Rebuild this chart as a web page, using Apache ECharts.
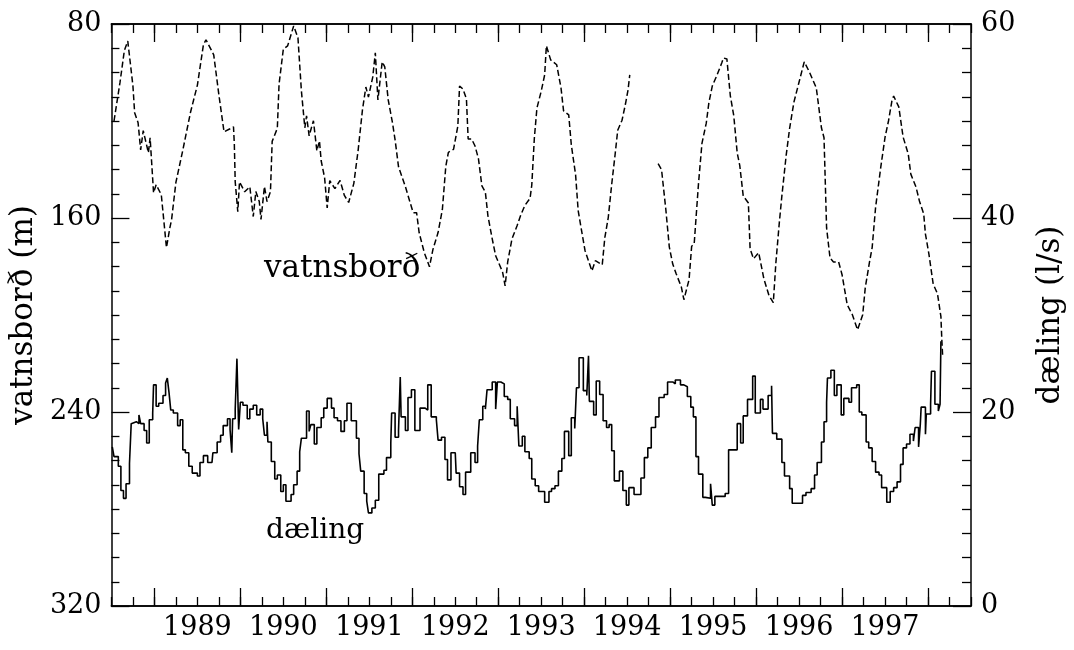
<!DOCTYPE html>
<html><head><meta charset="utf-8">
<script src="https://cdn.jsdelivr.net/npm/echarts@6/dist/echarts.min.js"></script>
<style>html,body{margin:0;padding:0;background:#fff}#c{width:1074px;height:650px}</style>
</head><body><div id="c"></div>
<script>
// Year boundaries (long ticks) and year label positions (mid-year)
const yearTicks = [1989, 1990, 1991, 1992, 1993, 1994, 1995, 1996, 1997, 1998];
const yearLabelPos = [1989.5, 1990.5, 1991.5, 1992.5, 1993.5, 1994.5, 1995.5, 1996.5, 1997.5];
const leftTicks = [80, 160, 240, 320];
const rightTicks = [0, 20, 40, 60];

// vatnsborð (m) — dashed, left inverted axis
const levelYears = [1988.53,1988.60,1988.65,1988.69,1988.75,1988.77,1988.81,1988.84,1988.87,1988.93,1988.95,1988.99,1989.02,1989.08,1989.14,1989.18,1989.20,1989.25,1989.33,1989.42,1989.50,1989.57,1989.60,1989.69,1989.75,1989.81,1989.88,1989.92,1989.93,1989.94,1989.97,1989.99,1990.05,1990.11,1990.15,1990.18,1990.22,1990.24,1990.28,1990.31,1990.35,1990.37,1990.43,1990.45,1990.50,1990.55,1990.62,1990.67,1990.71,1990.75,1990.77,1990.80,1990.85,1990.89,1990.92,1990.94,1990.98,1991.01,1991.04,1991.10,1991.16,1991.21,1991.26,1991.32,1991.37,1991.42,1991.46,1991.49,1991.54,1991.57,1991.60,1991.65,1991.68,1991.72,1991.77,1991.80,1991.84,1991.88,1991.92,1992.01,1992.05,1992.08,1992.14,1992.20,1992.24,1992.30,1992.35,1992.39,1992.42,1992.48,1992.53,1992.55,1992.59,1992.63,1992.65,1992.69,1992.73,1992.77,1992.81,1992.85,1992.88,1992.93,1992.97,1993.00,1993.05,1993.08,1993.11,1993.16,1993.22,1993.26,1993.31,1993.37,1993.39,1993.42,1993.45,1993.50,1993.54,1993.56,1993.61,1993.68,1993.73,1993.76,1993.82,1993.85,1993.90,1993.93,1993.97,1994.01,1994.09,1994.13,1994.21,1994.24,1994.28,1994.32,1994.36,1994.39,1994.44,1994.48,1994.51,1994.53,1994.70,1994.86,1994.90,1994.95,1994.99,1995.03,1995.07,1995.13,1995.16,1995.22,1995.25,1995.28,1995.33,1995.37,1995.42,1995.45,1995.49,1995.54,1995.60,1995.62,1995.66,1995.70,1995.74,1995.78,1995.81,1995.85,1995.91,1995.93,1995.97,1996.03,1996.09,1996.15,1996.20,1996.23,1996.27,1996.30,1996.35,1996.39,1996.44,1996.50,1996.56,1996.62,1996.70,1996.76,1996.79,1996.82,1996.86,1996.90,1996.96,1997.00,1997.06,1997.12,1997.18,1997.24,1997.27,1997.32,1997.35,1997.39,1997.45,1997.50,1997.54,1997.58,1997.60,1997.66,1997.71,1997.77,1997.80,1997.86,1997.90,1997.95,1997.97,1998.01,1998.06,1998.11,1998.15,1998.16,1998.17];
const levelValues = [120,104,91,87,105.5,116.6,120.7,131.9,124,133.1,126.9,149.6,146.3,150.4,172.2,164,160.6,145.3,132.1,116.4,105.2,88.6,86.5,92.7,109.2,124.5,123.2,122.4,129.8,145.1,157.4,145.1,149.2,147.1,159.4,149.1,153.2,160.6,147.0,153.2,149.1,128.4,123.0,104.8,90.3,89.0,80.8,85.7,107.6,122.8,117.9,126.1,119.9,132.3,128.2,136.4,143.4,155.8,144.6,147.9,144.5,150.7,153.6,145.7,132.1,115.5,106.0,110.1,101.9,91.9,111.3,95.6,97.7,111.3,120.8,127.8,138.9,143.0,147.1,157.8,157.8,166.1,174.3,180.1,173.0,166.0,156.5,138.7,132.9,131.7,122.1,105.6,106.8,110.9,127.4,127.4,130.3,135.6,146.8,149.3,159.1,168.6,175.6,178.1,182.2,188.0,178.1,168.6,163.1,159.0,154.8,151.9,146.5,127.1,114.7,107.7,101.0,89.0,94.8,96.8,106.3,115.8,117.5,129.8,142.2,157.0,165.3,173.5,181.8,177.6,179.3,168.1,159.8,146.1,133.7,123.8,119.7,113.0,107.2,101.0,null,137.6,140.1,156.6,171.9,179.0,183.0,188.4,193.7,185.4,171.7,170.5,145.7,129.2,120.9,112.6,105.6,101.5,96.1,94.0,94.4,109.6,117.8,133.1,138.4,150.9,153.8,172.7,176.8,174.3,185.0,192.0,194.9,178.5,161.9,150.8,134.1,123.0,112.2,103.9,95.6,99.8,106.3,122.8,126.9,164.1,176.5,178.1,178.1,183.4,195.8,199.9,206.1,199.9,188.7,178.0,172.2,155.6,139.1,126.7,120.0,111.7,109.7,114.2,126.6,133.6,141.9,147.2,153.0,158.3,166.6,174.8,187.2,191.2,200.7,209.8,216.8];

// dæling (l/s) — solid step line, right axis
const pumpYears = [1988.51,1988.53,1988.58,1988.61,1988.64,1988.67,1988.71,1988.73,1988.75,1988.79,1988.82,1988.84,1988.88,1988.91,1988.94,1988.98,1988.99,1989.02,1989.05,1989.10,1989.13,1989.15,1989.17,1989.19,1989.22,1989.27,1989.30,1989.33,1989.36,1989.40,1989.44,1989.50,1989.53,1989.57,1989.62,1989.67,1989.68,1989.73,1989.77,1989.80,1989.85,1989.88,1989.90,1989.91,1989.94,1989.96,1989.98,1990.00,1990.03,1990.08,1990.11,1990.15,1990.19,1990.23,1990.26,1990.28,1990.31,1990.32,1990.36,1990.40,1990.43,1990.47,1990.50,1990.53,1990.59,1990.62,1990.66,1990.69,1990.71,1990.74,1990.77,1990.80,1990.82,1990.86,1990.89,1990.94,1990.97,1991.01,1991.06,1991.09,1991.13,1991.17,1991.21,1991.24,1991.29,1991.35,1991.38,1991.40,1991.44,1991.47,1991.49,1991.53,1991.57,1991.61,1991.67,1991.70,1991.75,1991.76,1991.80,1991.84,1991.86,1991.87,1991.92,1991.95,1991.99,1992.03,1992.09,1992.15,1992.18,1992.22,1992.28,1992.30,1992.34,1992.38,1992.41,1992.45,1992.50,1992.51,1992.55,1992.59,1992.62,1992.68,1992.73,1992.76,1992.78,1992.82,1992.85,1992.87,1992.93,1992.97,1992.99,1993.03,1993.07,1993.11,1993.14,1993.19,1993.22,1993.24,1993.28,1993.31,1993.36,1993.39,1993.43,1993.47,1993.50,1993.54,1993.59,1993.62,1993.66,1993.70,1993.74,1993.77,1993.82,1993.85,1993.89,1993.91,1993.94,1993.99,1994.03,1994.05,1994.06,1994.11,1994.14,1994.18,1994.22,1994.26,1994.29,1994.32,1994.35,1994.41,1994.45,1994.49,1994.52,1994.58,1994.63,1994.66,1994.70,1994.74,1994.78,1994.83,1994.87,1994.93,1994.97,1995.03,1995.06,1995.12,1995.16,1995.20,1995.24,1995.27,1995.30,1995.33,1995.38,1995.41,1995.47,1995.49,1995.52,1995.61,1995.64,1995.68,1995.74,1995.78,1995.82,1995.85,1995.90,1995.93,1995.96,1995.99,1996.05,1996.08,1996.14,1996.18,1996.19,1996.24,1996.30,1996.33,1996.39,1996.42,1996.48,1996.54,1996.58,1996.64,1996.68,1996.71,1996.76,1996.79,1996.82,1996.83,1996.87,1996.91,1996.94,1996.99,1997.02,1997.08,1997.11,1997.17,1997.20,1997.23,1997.28,1997.31,1997.35,1997.39,1997.43,1997.46,1997.52,1997.56,1997.60,1997.64,1997.68,1997.71,1997.75,1997.79,1997.83,1997.85,1997.89,1997.91,1997.92,1997.97,1997.98,1998.03,1998.04,1998.08,1998.12,1998.14,1998.15];
const pumpValues = [16.4,15.4,14.4,11.9,11.1,12.6,14.7,18.8,19.0,18.8,19.7,18.8,18.1,16.8,19.2,19.9,22.8,20.6,20.9,21.7,23.0,23.5,22.0,20.2,19.9,18.6,19.2,16.1,15.8,14.4,13.7,13.4,14.8,15.5,14.8,14.8,15.8,16.9,17.6,18.6,19.3,18.2,15.8,19.3,20.3,25.5,18.2,21.0,20.7,19.3,20.3,20.7,19.7,20.3,19.3,17.6,19.0,16.9,14.9,13.1,13.5,11.8,12.5,10.8,11.5,12.5,13.9,15.9,17.3,17.3,20.1,18.0,18.7,16.7,18.4,19.4,20.4,21.4,20.4,19.4,19.1,18.0,19.1,20.9,19.1,17.3,15.7,13.9,11.6,10.8,9.6,10.1,10.9,13.6,14.0,15.3,16.8,19.9,17.4,18.1,23.6,19.5,18.1,21.5,22.3,18.1,20.4,20.2,22.8,19.5,19.2,17.1,17.4,15.1,13.0,15.8,15.8,13.7,12.3,11.5,13.8,15.8,14.8,16.5,19.2,20.6,20.3,22.3,23.1,20.3,23.1,22.9,21.6,21.3,19.3,18.6,20.6,16.5,17.5,15.9,15.2,13.1,12.4,11.8,11.8,10.7,11.8,12.1,12.4,13.9,15.2,18.0,15.5,19.4,18.3,22.5,25.6,22.2,21.7,25.8,21.1,19.7,23.2,21.8,19.1,18.4,18.7,16.0,12.9,13.9,11.9,10.4,12.2,11.5,11.5,13.2,15.3,16.3,18.4,19.5,21.5,21.8,23.1,22.9,23.3,22.8,22.6,21.6,20.5,19.5,15.4,13.6,11.2,11.1,12.6,10.4,11.3,11.3,11.6,16.1,16.1,18.8,16.8,19.6,21.3,21.3,23.7,19.9,21.3,20.3,21.7,22.7,17.8,17.2,14.8,13.4,12.1,10.6,10.6,11.4,11.7,12.1,13.5,14.8,16.9,19.0,21.0,23.5,24.3,21.7,22.8,19.7,21.4,21.0,22.5,22.8,20.0,19.7,16.9,16.3,14.9,13.8,13.5,12.2,10.7,11.8,12.2,12.8,14.6,16.3,16.7,17.7,17.0,18.4,16.4,18.7,20.5,17.7,19.8,20.8,24.2,20.8,20.1,20.8,27.3];

const levelData = levelYears.map((y, i) => [y, levelValues[i]]);
const pumpData = pumpYears.map((y, i) => [y, pumpValues[i]]);

const tickFont = '"DejaVu Serif", serif';
const wordFont = '"DejaVu Serif", serif';
const black = '#000';
const lineStyle = { color: black, width: 1.5 };

const chart = echarts.init(document.getElementById('c'), null, { renderer: 'canvas' });

function xAxisBase(pos) {
  return {
    type: 'value', position: pos, min: 1988.5, max: 1998.5,
    splitLine: { show: false },
    axisLine: { show: true, onZero: false, lineStyle: lineStyle }
  };
}

chart.setOption({
  animation: false,
  backgroundColor: '#fff',
  grid: { left: 110, right: 97, top: 24, bottom: 44, containLabel: false },
  xAxis: [
    Object.assign(xAxisBase('bottom'), {
      axisTick: { show: true, inside: true, length: 18, customValues: yearTicks, lineStyle: { color: black, width: 1.3 } },
      axisLabel: { show: true, customValues: yearLabelPos, formatter: v => String(Math.floor(v)),
        color: black, fontFamily: tickFont, fontSize: 27, margin: 8 }
    }),
    Object.assign(xAxisBase('bottom'), {
      interval: 0.25,
      axisTick: { show: true, inside: true, length: 9, lineStyle: { color: black, width: 1.3 } },
      axisLabel: { show: false }
    }),
    Object.assign(xAxisBase('top'), {
      axisTick: { show: true, inside: true, length: 18, customValues: yearTicks, lineStyle: { color: black, width: 1.3 } },
      axisLabel: { show: false }
    }),
    Object.assign(xAxisBase('top'), {
      interval: 0.25,
      axisTick: { show: true, inside: true, length: 9, lineStyle: { color: black, width: 1.3 } },
      axisLabel: { show: false }
    })
  ],
  yAxis: [
    {
      type: 'value', position: 'left', min: 80, max: 320, interval: 80, inverse: true,
      name: 'vatnsborð (m)', nameLocation: 'middle', nameRotate: 90, nameGap: 66,
      nameTextStyle: { color: black, fontFamily: wordFont, fontSize: 31 },
      splitLine: { show: false },
      axisLine: { show: true, onZero: false, lineStyle: lineStyle },
      axisTick: { show: true, inside: true, length: 18, lineStyle: { color: black, width: 1.3 } },
      minorTick: { show: true, splitNumber: 8, length: 8, lineStyle: { color: black, width: 1.3 } },
      axisLabel: { color: black, fontFamily: tickFont, fontSize: 27, margin: 10,
        formatter: v => leftTicks.indexOf(v) >= 0 ? String(v) : '' }
    },
    {
      type: 'value', position: 'right', min: 0, max: 60, interval: 20,
      name: 'dæling (l/s)', nameLocation: 'middle', nameRotate: 90, nameGap: 64,
      nameTextStyle: { color: black, fontFamily: wordFont, fontSize: 31 },
      splitLine: { show: false },
      axisLine: { show: true, onZero: false, lineStyle: lineStyle },
      axisTick: { show: true, inside: true, length: 18, lineStyle: { color: black, width: 1.3 } },
      minorTick: { show: true, splitNumber: 8, length: 9, lineStyle: { color: black, width: 1.3 } },
      axisLabel: { color: black, fontFamily: tickFont, fontSize: 27, margin: 10,
        formatter: v => rightTicks.indexOf(v) >= 0 ? String(v) : '' }
    }
  ],
  series: [
    {
      name: 'vatnsborð', type: 'line', xAxisIndex: 0, yAxisIndex: 0,
      data: levelData, showSymbol: false, connectNulls: false,
      lineStyle: { color: black, width: 1.5, type: [6, 3] }
    },
    {
      name: 'dæling', type: 'line', xAxisIndex: 0, yAxisIndex: 1, step: 'end',
      data: pumpData, showSymbol: false,
      lineStyle: { color: black, width: 1.6 }
    }
  ],
  graphic: [
    { type: 'text', left: 264, top: 253, style: { text: 'vatnsborð', font: '31px "DejaVu Serif", serif', fill: black } },
    { type: 'text', left: 266, top: 517, style: { text: 'dæling', font: '28px "DejaVu Serif", serif', fill: black } }
  ]
});
</script>
</body></html>
